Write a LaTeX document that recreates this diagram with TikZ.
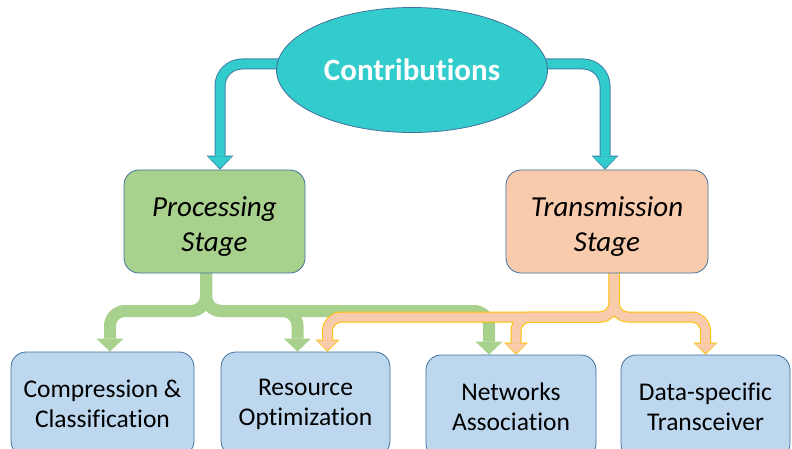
\documentclass[tikz,border=0pt]{standalone}
\usepackage{fontspec}
\setmainfont{Carlito}[Ligatures=NoCommon]
\usepackage{tikz}
\usetikzlibrary{shapes.geometric, arrows.meta, positioning, backgrounds, calc}
\definecolor{tealfill}{HTML}{33CCCC}
\definecolor{tealline}{HTML}{3A82A8}
\definecolor{procbg}{HTML}{A9D18E}
\definecolor{transbg}{HTML}{F8CBAD}
\definecolor{transline}{HTML}{FFC000}
\definecolor{leafbg}{HTML}{BDD7EE}
\definecolor{boxline}{HTML}{41719C}
\tikzset{
    box/.style={rectangle, rounded corners=15pt, draw=boxline, line width=0.8pt,
                align=center, inner sep=2pt, minimum height=103pt},
    stagebox/.style={box, font=\fontsize{29}{35}\selectfont\itshape},
    procbox/.style={stagebox, fill=procbg},
    transbox/.style={stagebox, fill=transbg},
    leafbox/.style={box, fill=leafbg, minimum height=104pt,
                    font=\fontsize{25.5}{30}\selectfont},
    topnode/.style={ellipse, draw=boxline, line width=0.8pt, fill=tealfill,
                    minimum width=271pt, minimum height=125pt, inner sep=0pt,
                    text=white, font=\fontsize{31}{37}\selectfont\bfseries},
    tealout/.style={line width=11pt, draw=tealline, rounded corners=22pt,
                    -{Triangle[width=27pt, length=14pt, line width=0pt]}},
    tealin/.style={line width=9pt, draw=tealfill, rounded corners=22pt, shorten >=1.45pt,
                   -{Triangle[width=24pt, length=11.5pt, line width=0pt]}},
    greenarr/.style={line width=12pt, draw=procbg, rounded corners=15pt,
                     -{Triangle[width=27pt, length=13pt, line width=0pt]}},
    orangeout/.style={line width=11pt, draw=transline, rounded corners=14pt,
                      -{Triangle[width=24pt, length=12pt, line width=0pt]}},
    orangein/.style={line width=9pt, draw=transbg, rounded corners=14pt, shorten >=1.4pt,
                     -{Triangle[width=21pt, length=9.6pt, line width=0pt]}},
}

\begin{document}
\begin{tikzpicture}[x=1pt, y=-1pt]

  \useasboundingbox (0,0) rectangle (792,449);
  \clip (0,0) rectangle (792,449);

  \node[topnode] (contrib) at (412,70) {Contributions};

  \node[procbox, minimum width=181pt] (proc) at (214.5,221.5) {\rule{0pt}{30pt}Processing\\Stage};
  \node[transbox, minimum width=202pt] (trans) at (607,221.5) {\rule{0pt}{30pt}Transmission\\Stage};

  \node[leafbox, minimum width=183pt] (comp) at (102.5,404) {Compression \&\\Classification};
  \node[leafbox, minimum width=169pt] (res) at (305.5,404) {Resource\\Optimization};
  \node[leafbox, minimum width=170pt] (net) at (511,407) {Networks\\Association};
  \node[leafbox, minimum width=169pt] (data) at (705.5,407) {Data-specific\\Transceiver};

  \coordinate (gbus) at (206,311);
  \coordinate (obus) at (614,317);

  \begin{scope}[on background layer]
    % contributions to the two stages
    \draw[tealout] ([yshift=6pt]contrib.center) -| ([xshift=5.5pt]proc.north);
    \draw[tealout] ([yshift=6pt]contrib.center) -| ([xshift=-2pt]trans.north);
    \draw[tealin] ([yshift=6pt]contrib.center) -| ([xshift=5.5pt]proc.north);
    \draw[tealin] ([yshift=6pt]contrib.center) -| ([xshift=-2pt]trans.north);

    % processing stage
    \draw[greenarr] ([xshift=-8.5pt]proc.south) -- (gbus) -| ([xshift=7.5pt]comp.north);
    \draw[greenarr] ([xshift=-8.5pt]proc.south) -- (gbus) -| ([xshift=-8pt]res.north);
    \draw[greenarr] ([xshift=-8.5pt]proc.south) -- (gbus) -| ([xshift=-22pt]net.north);

    % transmission stage
    \draw[orangeout] ([xshift=7pt]trans.south) -- (obus) -| ([xshift=22pt]res.north);
    \draw[orangeout] ([xshift=7pt]trans.south) -- (obus) -| ([xshift=5pt]net.north);
    \draw[orangeout] ([xshift=7pt]trans.south) -- (obus) -| (data.north);
    \draw[orangein] ([xshift=7pt]trans.south) -- (obus) -| ([xshift=22pt]res.north);
    \draw[orangein] ([xshift=7pt]trans.south) -- (obus) -| ([xshift=5pt]net.north);
    \draw[orangein] ([xshift=7pt]trans.south) -- (obus) -| (data.north);
  \end{scope}

\end{tikzpicture}
\end{document}
